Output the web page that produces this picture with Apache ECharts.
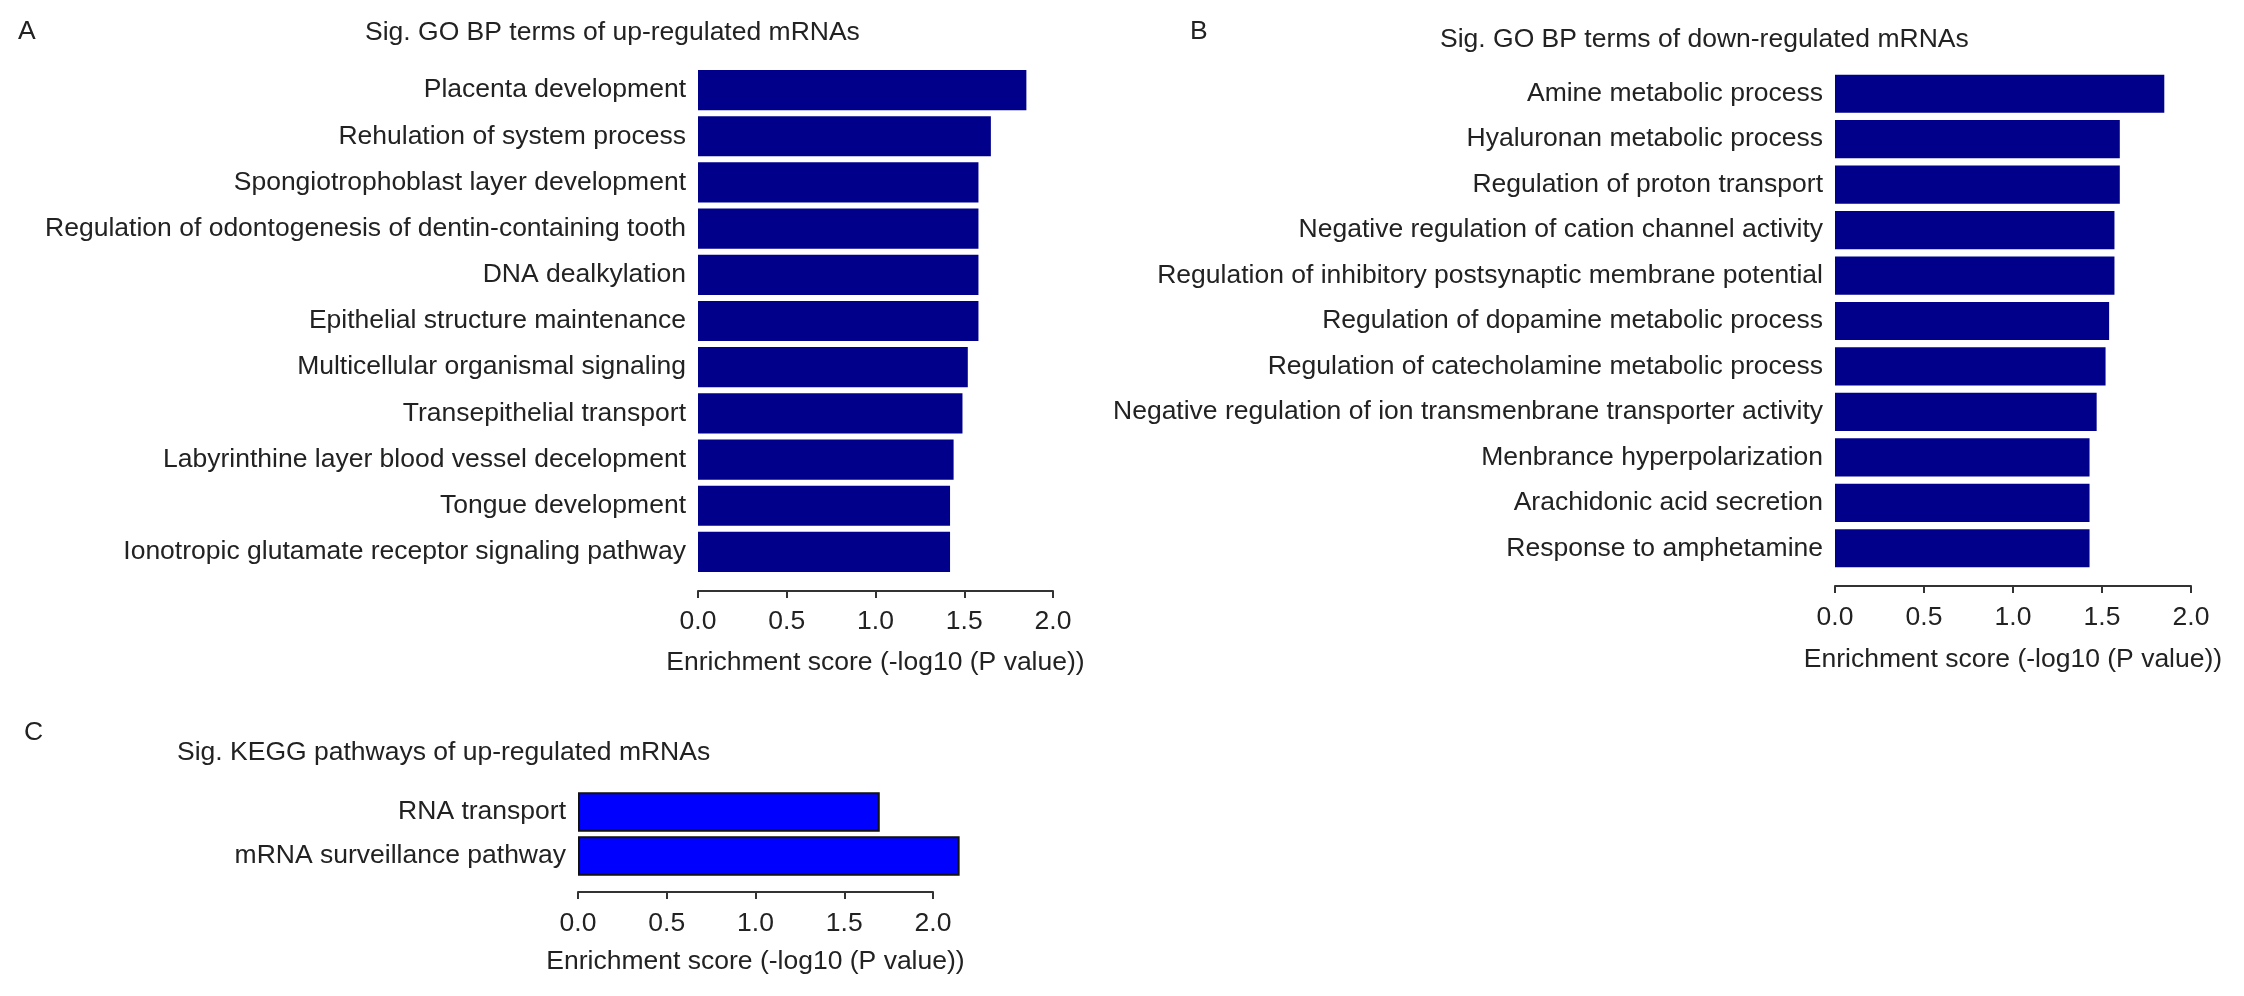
<!DOCTYPE html>
<html>
<head>
<meta charset="utf-8">
<script src="https://cdn.jsdelivr.net/npm/echarts@6/dist/echarts.min.js"></script>
<style>
  html, body { margin: 0; padding: 0; background: #fff; }
  #chart { width: 2244px; height: 996px; }
</style>
</head>
<body>
<div id="chart"></div>
<script>
// GO BP terms, up-regulated mRNAs (panel A)
var termsA = [
  'Placenta development',
  'Rehulation of system process',
  'Spongiotrophoblast layer development',
  'Regulation of odontogenesis of dentin-containing tooth',
  'DNA dealkylation',
  'Epithelial structure maintenance',
  'Multicellular organismal signaling',
  'Transepithelial transport',
  'Labyrinthine layer blood vessel decelopment',
  'Tongue development',
  'Ionotropic glutamate receptor signaling pathway'
];
var scoresA = [1.85, 1.65, 1.58, 1.58, 1.58, 1.58, 1.52, 1.49, 1.44, 1.42, 1.42];

// GO BP terms, down-regulated mRNAs (panel B)
var termsB = [
  'Amine metabolic process',
  'Hyaluronan metabolic process',
  'Regulation of proton transport',
  'Negative regulation of cation channel activity',
  'Regulation of inhibitory postsynaptic membrane potential',
  'Regulation of dopamine metabolic process',
  'Regulation of catecholamine metabolic process',
  'Negative regulation of ion transmenbrane transporter activity',
  'Menbrance hyperpolarization',
  'Arachidonic acid secretion',
  'Response to amphetamine'
];
var scoresB = [1.85, 1.60, 1.60, 1.57, 1.57, 1.54, 1.52, 1.47, 1.43, 1.43, 1.43];

// KEGG pathways, up-regulated mRNAs (panel C)
var termsC = ['RNA transport', 'mRNA surveillance pathway'];
var scoresC = [1.70, 2.15];

var xTicks = [0, 0.5, 1.0, 1.5, 2.0];
var axisTitle = 'Enrichment score (-log10 (P value))';

var myChart = echarts.init(document.getElementById('chart'));

var FONT = "'Liberation Sans', Arial, sans-serif";
var TXT = '#222';
var FS = 26.5;

function xAxisFor(gridIndex, offset, margin, nameGap) {
  return {
    type: 'value',
    gridIndex: gridIndex,
    min: xTicks[0],
    max: xTicks[xTicks.length - 1],
    interval: xTicks[1] - xTicks[0],
    offset: offset,
    splitLine: { show: false },
    axisLine: { show: true, lineStyle: { color: '#333', width: 2 } },
    axisTick: { show: true, length: 7, lineStyle: { color: '#333', width: 2 } },
    axisLabel: {
      margin: margin, fontSize: FS, color: TXT, fontFamily: FONT,
      formatter: function (v) { return v.toFixed(1); }
    },
    name: axisTitle,
    nameLocation: 'middle',
    nameGap: nameGap,
    nameMoveOverlap: false,
    nameTextStyle: { fontSize: FS, color: TXT, fontFamily: FONT }
  };
}

function yAxisFor(gridIndex, terms) {
  return {
    type: 'category',
    gridIndex: gridIndex,
    data: terms,
    inverse: true,
    axisLine: { show: false },
    axisTick: { show: false },
    axisLabel: { margin: 12, fontSize: FS, color: TXT, fontFamily: FONT }
  };
}

function heading(text, left, top) {
  return {
    text: text, left: left, top: top, padding: 0,
    textStyle: { fontSize: FS, fontWeight: 'normal', color: TXT, fontFamily: FONT }
  };
}

var option = {
  animation: false,
  backgroundColor: '#fff',
  title: [
    heading('A', 18, 18),
    heading('Sig. GO BP terms of up-regulated mRNAs', 365, 19),
    heading('B', 1190, 18),
    heading('Sig. GO BP terms of down-regulated mRNAs', 1440, 26),
    heading('C', 24, 719),
    heading('Sig. KEGG pathways of up-regulated mRNAs', 177, 739)
  ],
  grid: [
    { left: 698, top: 67, width: 355, height: 508 },
    { left: 1835, top: 71, width: 356, height: 500 },
    { left: 578, top: 790, width: 355, height: 88 }
  ],
  xAxis: [
    xAxisFor(0, 16, 17, 58),
    xAxisFor(1, 15, 18, 60),
    xAxisFor(2, 14, 18, 56)
  ],
  yAxis: [
    yAxisFor(0, termsA),
    yAxisFor(1, termsB),
    yAxisFor(2, termsC)
  ],
  series: [
    {
      type: 'bar', xAxisIndex: 0, yAxisIndex: 0, data: scoresA,
      barCategoryGap: '13%',
      itemStyle: { color: '#00008B' }
    },
    {
      type: 'bar', xAxisIndex: 1, yAxisIndex: 1, data: scoresB,
      barCategoryGap: '16%',
      itemStyle: { color: '#00008B' }
    },
    {
      type: 'bar', xAxisIndex: 2, yAxisIndex: 2, data: scoresC,
      barCategoryGap: '10%', clip: false,
      itemStyle: { color: '#0000FF', borderColor: '#111', borderWidth: 2 }
    }
  ]
};

myChart.setOption(option);
</script>
</body>
</html>
